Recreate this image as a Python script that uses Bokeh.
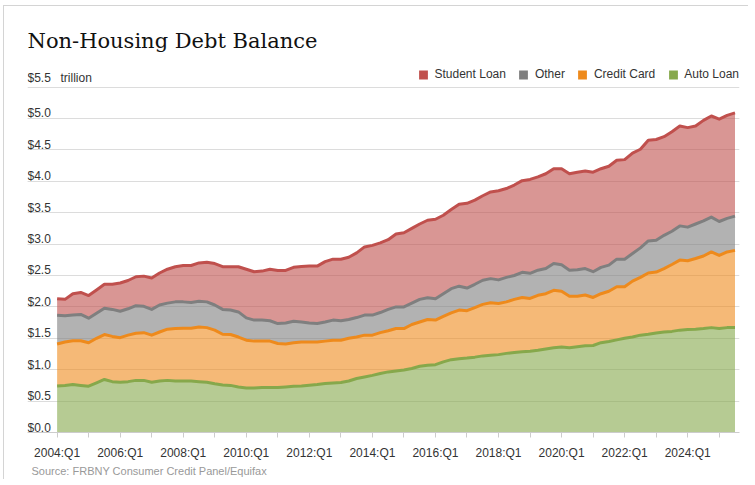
import numpy as np
from bokeh.plotting import figure
from bokeh.models import FixedTicker, Grid, Range1d, Title, Legend, LegendItem
from bokeh.core.properties import value
from bokeh.embed import file_html
from bokeh.resources import INLINE

# ---------------- data (trillions of dollars, quarterly 2004:Q1 - 2025:Q3) ----------------
years = list(range(2004, 2026))
quarter_x = [y + q / 4 for y in years for q in range(4)][:87]

auto_loan = [
    0.74, 0.75, 0.765, 0.75,
    0.737, 0.79, 0.845, 0.81,
    0.80, 0.81, 0.83, 0.83,
    0.80, 0.82, 0.83, 0.82,
    0.82, 0.82, 0.81, 0.80,
    0.775, 0.755, 0.75, 0.726,
    0.71, 0.71, 0.715, 0.715,
    0.715, 0.726, 0.737, 0.74,
    0.753, 0.764, 0.78, 0.79,
    0.795, 0.82, 0.86, 0.885,
    0.91, 0.94, 0.965, 0.98,
    0.995, 1.02, 1.055, 1.07,
    1.08, 1.125, 1.16, 1.175,
    1.185, 1.20, 1.22, 1.23,
    1.24, 1.26, 1.275, 1.285,
    1.295, 1.31, 1.33, 1.35,
    1.36, 1.35, 1.365, 1.38,
    1.385, 1.43, 1.45, 1.475,
    1.50, 1.52, 1.55, 1.565,
    1.585, 1.60, 1.61, 1.63,
    1.64, 1.645, 1.656, 1.67,
    1.655, 1.67, 1.67,
]
credit_card = [
    0.67, 0.69, 0.695, 0.71,
    0.693, 0.71, 0.715, 0.72,
    0.71, 0.74, 0.75, 0.76,
    0.75, 0.78, 0.815, 0.835,
    0.84, 0.84, 0.87, 0.87,
    0.855, 0.81, 0.81, 0.794,
    0.76, 0.745, 0.74, 0.74,
    0.702, 0.684, 0.693, 0.70,
    0.687, 0.676, 0.675, 0.68,
    0.675, 0.68, 0.66, 0.665,
    0.64, 0.65, 0.655, 0.675,
    0.66, 0.70, 0.705, 0.73,
    0.71, 0.725, 0.745, 0.775,
    0.755, 0.79, 0.82, 0.835,
    0.815, 0.82, 0.845, 0.865,
    0.84, 0.875, 0.88, 0.915,
    0.89, 0.82, 0.805, 0.81,
    0.765, 0.78, 0.80, 0.845,
    0.82, 0.89, 0.92, 0.975,
    0.97, 1.01, 1.065, 1.115,
    1.095, 1.125, 1.154, 1.205,
    1.165, 1.205, 1.23,
]
other = [
    0.458, 0.42, 0.41, 0.42,
    0.39, 0.40, 0.42, 0.43,
    0.42, 0.42, 0.44, 0.42,
    0.41, 0.43, 0.415, 0.425,
    0.42, 0.41, 0.41, 0.41,
    0.40, 0.395, 0.39, 0.40,
    0.355, 0.335, 0.335, 0.325,
    0.318, 0.335, 0.34, 0.32,
    0.305, 0.295, 0.305, 0.32,
    0.31, 0.30, 0.31, 0.32,
    0.32, 0.32, 0.34, 0.345,
    0.345, 0.34, 0.36, 0.345,
    0.34, 0.36, 0.385, 0.38,
    0.36, 0.37, 0.385, 0.385,
    0.375, 0.39, 0.38, 0.40,
    0.40, 0.40, 0.40, 0.425,
    0.42, 0.415, 0.42, 0.42,
    0.41, 0.42, 0.415, 0.44,
    0.44, 0.44, 0.47, 0.51,
    0.505, 0.53, 0.53, 0.545,
    0.535, 0.55, 0.56, 0.555,
    0.54, 0.535, 0.545,
]
student_loan = [
    0.262, 0.26, 0.34, 0.35,
    0.36, 0.37, 0.38, 0.40,
    0.45, 0.45, 0.46, 0.48,
    0.50, 0.51, 0.54, 0.56,
    0.58, 0.59, 0.61, 0.63,
    0.66, 0.68, 0.69, 0.72,
    0.775, 0.77, 0.78, 0.82,
    0.845, 0.835, 0.86, 0.885,
    0.905, 0.915, 0.96, 0.97,
    0.98, 0.99, 1.03, 1.085,
    1.11, 1.11, 1.11, 1.16,
    1.18, 1.19, 1.20, 1.235,
    1.265, 1.25, 1.26, 1.305,
    1.35, 1.34, 1.345, 1.38,
    1.42, 1.415, 1.44, 1.46,
    1.495, 1.485, 1.51, 1.51,
    1.53, 1.535, 1.555, 1.555,
    1.585, 1.57, 1.575, 1.575,
    1.585, 1.60, 1.57, 1.605,
    1.605, 1.57, 1.585, 1.59,
    1.585, 1.56, 1.60, 1.61,
    1.63, 1.64, 1.645,
]

series_names = ["Auto Loan", "Credit Card", "Other", "Student Loan"]
series_colors = ["#86a84b", "#ee8a1c", "#7f7f7f", "#c0504d"]
legend_order = ["Student Loan", "Other", "Credit Card", "Auto Loan"]

y_ticks = [0.0, 0.5, 1.0, 1.5, 2.0, 2.5, 3.0, 3.5, 4.0, 4.5, 5.0]
y_tick_labels = ["$0.0", "$0.5", "$1.0", "$1.5", "$2.0", "$2.5", "$3.0", "$3.5", "$4.0", "$4.5", "$5.0"]
y_top = 5.5
y_top_label = "$5.5"
unit_label = "trillion"
x_ticks = years
x_tick_labels = {y: (f"{y}:Q1" if y % 2 == 0 else "") for y in years}

title_text = "Non-Housing Debt Balance"
source_text = "Source: FRBNY Consumer Credit Panel/Equifax"

# ---------------- figure ----------------
X0, X1 = 2003.061, 2025.643
p = figure(width=745, height=474, output_backend="svg", toolbar_location=None,
           x_range=Range1d(X0, X1), y_range=Range1d(0, 5.812),
           y_axis_location=None,
           min_border_left=23, min_border_right=10, min_border_top=61, min_border_bottom=48)
p.margin = (5, 0, 0, 3)
p.styles = {"border-left": "1px solid #d4d4d4", "border-top": "1px solid #d4d4d4"}
p.outline_line_color = None
p.background_fill_color = "white"
p.border_fill_color = "white"
p.xgrid.visible = False

p.title.text = title_text
p.title.text_font = "DejaVu Serif"
p.title.text_font_size = "21px"
p.title.text_font_style = "normal"
p.title.text_color = "#111111"
p.title.align = "left"
p.title.standoff = 30

ygrid = Grid(dimension=1, ticker=FixedTicker(ticks=y_ticks + [y_top]),
             grid_line_color="#dcdcdc", grid_line_width=1)
p.add_layout(ygrid)

ax = p.xaxis[0]
ax.ticker = FixedTicker(ticks=x_ticks, minor_ticks=[])
ax.major_label_overrides = x_tick_labels
ax.axis_line_color = "#cccccc"
ax.major_tick_line_color = "#cccccc"
ax.major_tick_out = 5
ax.major_tick_in = 0
ax.minor_tick_line_color = None
ax.major_label_standoff = 8
ax.major_label_text_font = "Liberation Sans"
ax.major_label_text_font_size = "12px"
ax.major_label_text_color = "#333333"

# ---------------- stacked areas ----------------
x = np.array(quarter_x)
vals = [np.array(auto_loan), np.array(credit_card), np.array(other), np.array(student_loan)]
tops = np.cumsum(vals, axis=0)
bottoms = np.vstack([np.zeros(len(x)), tops[:-1]])

for i in range(4):
    p.varea(x=x, y1=bottoms[i], y2=tops[i], fill_color=series_colors[i], fill_alpha=0.6)

# legend swatches: zero-height areas along each series' top edge (hidden under the lines)
swatch = {}
for i, name in enumerate(series_names):
    swatch[name] = p.varea(x=x, y1=tops[i], y2=tops[i], fill_color=series_colors[i], fill_alpha=1.0)

for i in range(4):
    p.line(x=x, y=tops[i], line_color=series_colors[i], line_width=3, line_join="round")

# ---------------- y labels (above gridlines) ----------------
p.text(x=[X0] * len(y_ticks), y=y_ticks, text=y_tick_labels,
       text_font=value("Liberation Sans"), text_font_size="12px", text_color="#333333",
       text_align="left", text_baseline="alphabetic", y_offset=-5)
p.text(x=[X0], y=[y_top], text=[y_top_label],
       text_font=value("Liberation Sans"), text_font_size="12px", text_color="#333333",
       text_align="left", text_baseline="alphabetic", y_offset=-9)
p.text(x=[X0], y=[y_top], text=[unit_label],
       text_font=value("Liberation Sans"), text_font_size="12px", text_color="#333333",
       text_align="left", text_baseline="alphabetic", x_offset=33, y_offset=-9)

# ---------------- legend ----------------
items = [LegendItem(label=name, renderers=[swatch[name]]) for name in legend_order]
legend = Legend(items=items, orientation="horizontal", location="top_right",
                glyph_width=11, glyph_height=11, label_standoff=6, spacing=12,
                label_height=12, padding=0, margin=0,
                label_text_font="Liberation Sans", label_text_font_size="12px",
                label_text_color="#333333", border_line_color=None, background_fill_alpha=0)
p.add_layout(legend)

# ---------------- source ----------------
src = Title(text=source_text, align="left", text_font="Liberation Sans", text_font_size="11px",
            text_font_style="normal", text_color="#999999", standoff=0, offset=4)
p.add_layout(src, "below")

open("out.html", "w").write(file_html(p, INLINE))
